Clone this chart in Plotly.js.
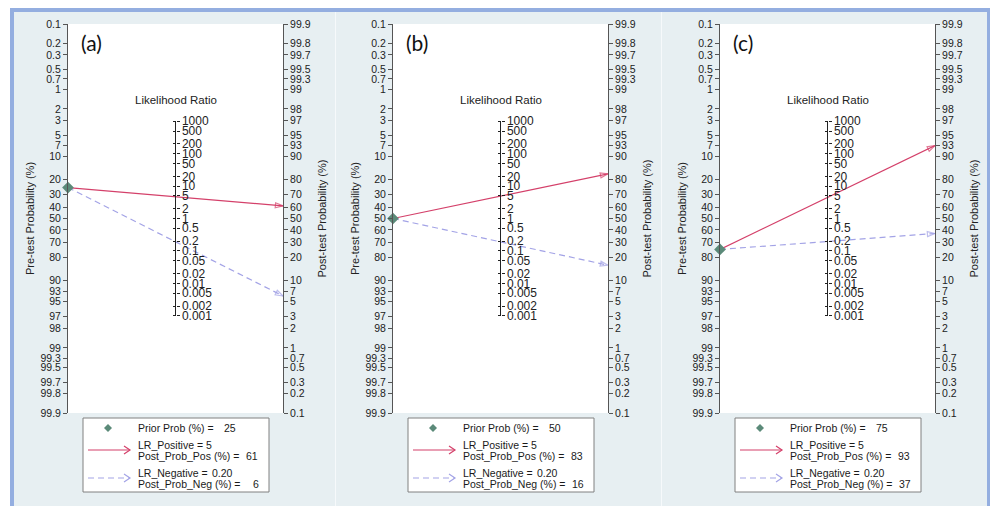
<!DOCTYPE html>
<html><head><meta charset="utf-8">
<script src="https://cdn.plot.ly/plotly-3.0.1.min.js"></script>
<style>html,body{margin:0;padding:0;background:#fff}#chart{width:990px;height:506px}</style>
</head><body><div id="chart"></div>
<script>
// ---------- data ----------
const panelLabels = ['(a)', '(b)', '(c)'];
const priorProb   = [25, 50, 75];
const lrPositive  = [5, 5, 5];
const postProbPos = [61, 83, 93];
const lrNegative  = [0.20, 0.20, 0.20];
const postProbNeg = [6, 16, 37];
const preTicks  = [0.1,0.2,0.3,0.5,0.7,1,2,3,5,7,10,20,30,40,50,60,70,80,90,93,95,97,98,99,99.3,99.5,99.7,99.8,99.9];
const postTicks = [99.9,99.8,99.7,99.5,99.3,99,98,97,95,93,90,80,70,60,50,40,30,20,10,7,5,3,2,1,0.7,0.5,0.3,0.2,0.1];
const lrTicks   = [1000,500,200,100,50,20,10,5,2,1,0.5,0.2,0.1,0.05,0.02,0.01,0.005,0.002,0.001];

// ---------- helpers ----------
const W = 990, H = 506;
const X = v => v / W, Y = v => 1 - v / H;
const logit = p => Math.log(p / (100 - p));
const L = Math.log(999);            // logit of 99.9 %
const fmtLR = v => Number.isInteger(v) ? String(v) : v.toFixed(2);

const posColor = '#d4406a', negColor = '#a3a3e6', dotColor = '#5b8a79';
const axisColor = '#555555', textColor = '#222222';
const FONT = 'Liberation Sans, Arial, sans-serif';

const panelOffset = [0, 325, 652];
const axisLeftPx = 68, axisRightPx = 283, plotTopPx = 24, plotBotPx = 413;

const traces = [];
const layout = {
  width: W, height: H,
  margin: {l: 0, r: 0, t: 0, b: 0},
  paper_bgcolor: '#e7eff2', plot_bgcolor: '#ffffff',
  showlegend: false, hovermode: false,
  font: {family: FONT, color: textColor, size: 11},
  shapes: [], annotations: []
};

// outer frame (kept outside the plot areas)
layout.shapes.push(
  {type:'rect', xref:'paper', yref:'paper', x0:0, x1:1, y0:Y(8), y1:1, fillcolor:'#ffffff', line:{width:0}, layer:'below'},
  {type:'rect', xref:'paper', yref:'paper', x0:0, x1:X(10), y0:0, y1:1, fillcolor:'#ffffff', line:{width:0}, layer:'below'},
  {type:'rect', xref:'paper', yref:'paper', x0:X(10), x1:X(14), y0:0, y1:Y(8), fillcolor:'#94aee0', line:{width:0}, layer:'below'},
  {type:'rect', xref:'paper', yref:'paper', x0:X(10), x1:1, y0:Y(12), y1:Y(8), fillcolor:'#94aee0', line:{width:0}, layer:'below'},
  {type:'rect', xref:'paper', yref:'paper', x0:X(987), x1:1, y0:0, y1:Y(8), fillcolor:'#94aee0', line:{width:0}, layer:'below'},
  {type:'line', xref:'paper', yref:'paper', x0:X(335.5), x1:X(335.5), y0:0, y1:Y(12), line:{color:'#f6f9fb', width:1}, layer:'below'},
  {type:'line', xref:'paper', yref:'paper', x0:X(661.5), x1:X(661.5), y0:0, y1:Y(12), line:{color:'#f6f9fb', width:1}, layer:'below'}
);

const yDom = [Y(plotBotPx), Y(plotTopPx)];

const baseY = {
  range: [-L, L], fixedrange: true, showgrid: false, zeroline: false,
  showline: true, linecolor: axisColor, linewidth: 1,
  ticks: 'outside', ticklen: 4, tickwidth: 1, tickcolor: axisColor,
  tickmode: 'array', tickfont: {family: FONT, size: 10.5, color: textColor}
};

for (let i = 0; i < 3; i++) {
  const dx = panelOffset[i];
  const xn = i === 0 ? '' : String(i + 1);
  const xId = 'x' + xn;
  const yL = 4 * i + 1, yR = 4 * i + 2, yLR = 4 * i + 3, yLR2 = 4 * i + 4;
  const yid = n => n === 1 ? 'y' : 'y' + n;
  const ykey = n => n === 1 ? 'yaxis' : 'yaxis' + n;
  const xDom = [X(axisLeftPx + dx), X(axisRightPx + dx)];
  const center = (xDom[0] + xDom[1]) / 2;

  layout['xaxis' + xn] = {domain: xDom, range: [0, 1], visible: false, fixedrange: true, anchor: yid(yL)};

  layout[ykey(yL)] = Object.assign({}, baseY, {
    domain: yDom, anchor: xId, side: 'left',
    tickvals: preTicks.map(p => -logit(p)), ticktext: preTicks.map(String),
    title: {text: 'Pre-test Probability (%)', font: {family: FONT, size: 11, color: textColor}, standoff: 3}
  });
  layout[ykey(yR)] = Object.assign({}, baseY, {
    anchor: xId, side: 'right', overlaying: yid(yL),
    tickvals: postTicks.map(p => logit(p)), ticktext: postTicks.map(String),
    title: {text: 'Post-test Probability (%)', font: {family: FONT, size: 11, color: textColor}, standoff: 8}
  });
  // Likelihood-ratio scale: log(LR)/2 on the same vertical scale (Fagan nomogram)
  const lrCommon = {
    range: [-L, L], anchor: 'free', position: center, overlaying: yid(yL),
    fixedrange: true, showgrid: false, zeroline: false, showline: false,
    ticks: 'outside', ticklen: 3, tickwidth: 1, tickcolor: '#222',
    tickmode: 'array', tickvals: lrTicks.map(v => Math.log(v) / 2)
  };
  layout[ykey(yLR)] = Object.assign({}, lrCommon, {
    side: 'right', ticktext: lrTicks.map(String),
    tickfont: {family: FONT, size: 12, color: textColor}
  });
  layout[ykey(yLR2)] = Object.assign({}, lrCommon, {side: 'left', showticklabels: false});
  // LR scale spine (from 0.001 to 1000)
  layout.shapes.push({type:'line', xref:xId, yref:yid(yLR), x0:0.5, x1:0.5,
    y0:Math.log(lrTicks[lrTicks.length - 1]) / 2, y1:Math.log(lrTicks[0]) / 2, line:{color:'#222', width:1}});

  // helper traces that make the extra axes exist
  [yR, yLR, yLR2].forEach(n => traces.push({type:'scatter', x:[], y:[], xaxis:xId, yaxis:yid(n), hoverinfo:'skip'}));

  const yPre = -logit(priorProb[i]);
  const pos = {x:[0, 1], y:[yPre, logit(postProbPos[i])]};
  const neg = {x:[0, 1], y:[yPre, logit(postProbNeg[i])]};
  traces.push({type:'scatter', mode:'lines', xaxis:xId, yaxis:yid(yL), x:pos.x, y:pos.y,
    line:{color:posColor, width:1.2}});
  traces.push({type:'scatter', mode:'lines', xaxis:xId, yaxis:yid(yL), x:neg.x, y:neg.y,
    line:{color:negColor, width:1.2, dash:'6px,4px'}});
  // arrow heads
  traces.push({type:'scatter', mode:'markers', xaxis:xId, yaxis:yid(yL), cliponaxis:false, x:pos.x, y:pos.y,
    marker:{symbol:'arrow-open', size:[0, 8], angleref:'previous', color:posColor, line:{color:posColor, width:1.2}}});
  traces.push({type:'scatter', mode:'markers', xaxis:xId, yaxis:yid(yL), cliponaxis:false, x:neg.x, y:neg.y,
    marker:{symbol:'arrow-open', size:[0, 8], angleref:'previous', color:negColor, line:{color:negColor, width:1.2}}});
  traces.push({type:'scatter', mode:'markers', xaxis:xId, yaxis:yid(yL), cliponaxis:false,
    x:[0], y:[yPre], marker:{symbol:'diamond', size:9, color:dotColor, line:{width:0}}});

  // panel label & LR title
  layout.annotations.push(
    {xref:'paper', yref:'paper', x:X(79 + dx), y:Y(43), xanchor:'left', yanchor:'middle', showarrow:false,
     text:panelLabels[i], font:{family:'Lato, Open Sans, sans-serif', size:21, color:'#111'}},
    {xref:'paper', yref:'paper', x:center, y:Y(100), xanchor:'center', yanchor:'middle', showarrow:false,
     text:'Likelihood Ratio', font:{family:FONT, size:11.5, color:textColor}}
  );

  // legend box
  const bx = 83 + dx;
  layout.shapes.push(
    {type:'rect', xref:'paper', yref:'paper', x0:X(bx), x1:X(269 + dx), y0:Y(492), y1:Y(418), fillcolor:'#ffffff', line:{color:'#808080', width:1}},
    {type:'path', xref:'paper', yref:'paper',
     path:`M${X(108+dx)},${Y(424)} L${X(112+dx)},${Y(428)} L${X(108+dx)},${Y(432)} L${X(104+dx)},${Y(428)} Z`,
     fillcolor:dotColor, line:{width:0}},
    {type:'line', xref:'paper', yref:'paper', x0:X(88+dx), x1:X(130+dx), y0:Y(450), y1:Y(450), line:{color:posColor, width:1.2}},
    {type:'path', xref:'paper', yref:'paper', path:`M${X(124+dx)},${Y(446)} L${X(130+dx)},${Y(450)} L${X(124+dx)},${Y(454)}`, line:{color:posColor, width:1.2}},
    {type:'line', xref:'paper', yref:'paper', x0:X(88+dx), x1:X(130+dx), y0:Y(478), y1:Y(478), line:{color:negColor, width:1.2, dash:'6px,4px'}},
    {type:'path', xref:'paper', yref:'paper', path:`M${X(124+dx)},${Y(474)} L${X(130+dx)},${Y(478)} L${X(124+dx)},${Y(482)}`, line:{color:negColor, width:1.2}}
  );
  const legFont = {family: FONT, size: 10.5, color: '#1a1a1a'};
  const lab = (t, y) => ({xref:'paper', yref:'paper', x:X(136 + dx), y:Y(y), xanchor:'left', yanchor:'middle', showarrow:false, text:t, font:legFont});
  const val = (t, xr, y) => ({xref:'paper', yref:'paper', x:X(xr + dx), y:Y(y), xanchor:'right', yanchor:'middle', showarrow:false, text:t, font:legFont});
  layout.annotations.push(
    lab('Prior Prob (%) =', 428), val(String(priorProb[i]), 238, 428),
    lab('LR_Positive =', 444.5), val(fmtLR(lrPositive[i]), 214, 444.5),
    lab('Post_Prob_Pos (%) =', 455.5), val(String(postProbPos[i]), 260, 455.5),
    lab('LR_Negative =', 472.5), val(fmtLR(lrNegative[i]), 235, 472.5),
    lab('Post_Prob_Neg (%) =', 483.5), val(String(postProbNeg[i]), 261, 483.5)
  );
}

Plotly.newPlot('chart', traces, layout, {staticPlot: true, displayModeBar: false});
</script>
</body></html>
